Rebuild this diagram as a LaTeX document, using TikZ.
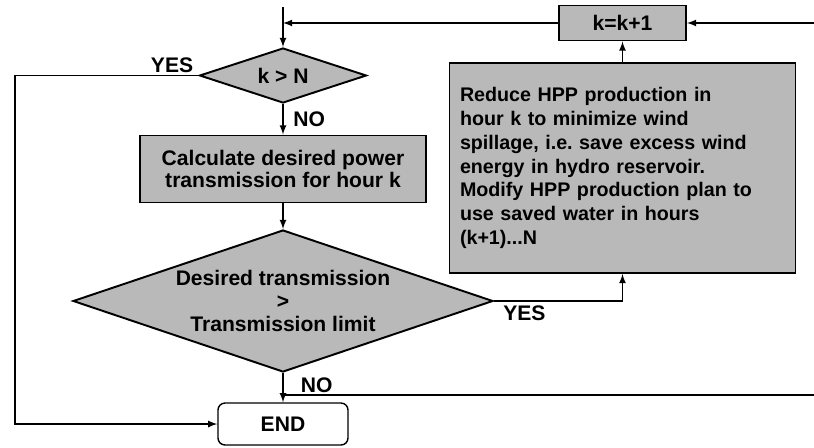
\documentclass[tikz,border=0pt]{standalone}
\usepackage{fontspec}
\setmainfont{Liberation Sans}
\usepackage{tikz}
\usetikzlibrary{shapes.geometric, arrows, positioning, calc}

\begin{document}
\begin{tikzpicture}[>=latex,
  proc/.style={draw, line width=1.1pt, rectangle, fill=gray!55, font=\fontsize{12}{12.5}\selectfont\bfseries},
  decide/.style={draw, line width=1.1pt, diamond, fill=gray!55, inner sep=0pt, font=\fontsize{12}{13}\selectfont\bfseries},
  term/.style={draw, line width=0.8pt, rectangle, rounded corners=4pt, fill=white, font=\fontsize{12}{13}\selectfont\bfseries},
  flow/.style={line width=0.8pt},
  lbl/.style={inner sep=0pt, font=\fontsize{12}{13}\selectfont\bfseries}]
\useasboundingbox (0,0) rectangle (16.28,-8.94);

% Loop entry and free ends
\coordinate (top) at (5.66,-0.14);
\coordinate (lft) at (0.3,0);
\coordinate (rin) at (16.28,-0.46);
\coordinate (rout) at (16.28,-7.9);

% Decision k > N
\node[decide, minimum width=3.34cm, minimum height=1.1cm, shape aspect=3] (d1) at (5.66,-1.51) {k > N};

% Transmission for hour k
\node[proc, minimum width=5.72cm, minimum height=1.34cm, align=center] (calc) at (5.66,-3.38) {Calculate desired power\\transmission for hour k};

% Decision transmission limit
\node[decide, minimum width=8.4cm, minimum height=2.84cm, shape aspect=2.96, align=center] (d2) at (5.66,-6.02) {Desired transmission\\>\\Transmission limit};

% End
\node[term, minimum width=2.6cm, minimum height=0.84cm] (fin) at (5.66,-8.48) {END};

% Reduce HPP production
\node[proc, text width=6.5cm, inner xsep=0.21cm, minimum height=4.2cm, align=left, font=\fontsize{11.2}{13.6}\selectfont\bfseries] (reduce) at (12.45,-3.36) {Reduce HPP production in\\hour k to minimize wind\\spillage, i.e.\ save excess wind\\energy in hydro reservoir.\\Modify HPP production plan to\\use saved water in hours\\(k+1)...N};

% Counter
\node[proc, minimum width=2.54cm, minimum height=0.7cm] (kbox) at (12.45,-0.46) {k=k+1};

% Connectors
\draw[flow, ->] (top) -- (d1.north);
\draw[flow, ->] (kbox.west) -- (kbox.west -| top);
\draw[flow, ->] (rin) -- (kbox.east);
\draw[flow, ->] (d1.south) -- (calc.north);
\draw[flow, ->] (calc.south) -- (d2.north);
\draw[flow, ->] (d2.east) -| (reduce.south);
\draw[flow, ->] (reduce.north) -- (kbox.south);
\draw[flow, ->] (d2.south) -- (fin.north);
\draw[flow] (d2.south |- rout) -- (rout);
\draw[flow, ->] (d1.west) -- (d1.west -| lft) |- (fin.west);

% Branch labels
\node[lbl, above left=0.5mm and 1mm of d1.west] (yes1) {YES};
\node[lbl, below right=1.5mm and 2mm of d1.south] (no1) {NO};
\node[lbl, below right=0.8mm and 1.8mm of d2.east] (yes2) {YES};
\node[lbl, below right=0.8mm and 3.5mm of d2.south] (no2) {NO};

\end{tikzpicture}
\end{document}
